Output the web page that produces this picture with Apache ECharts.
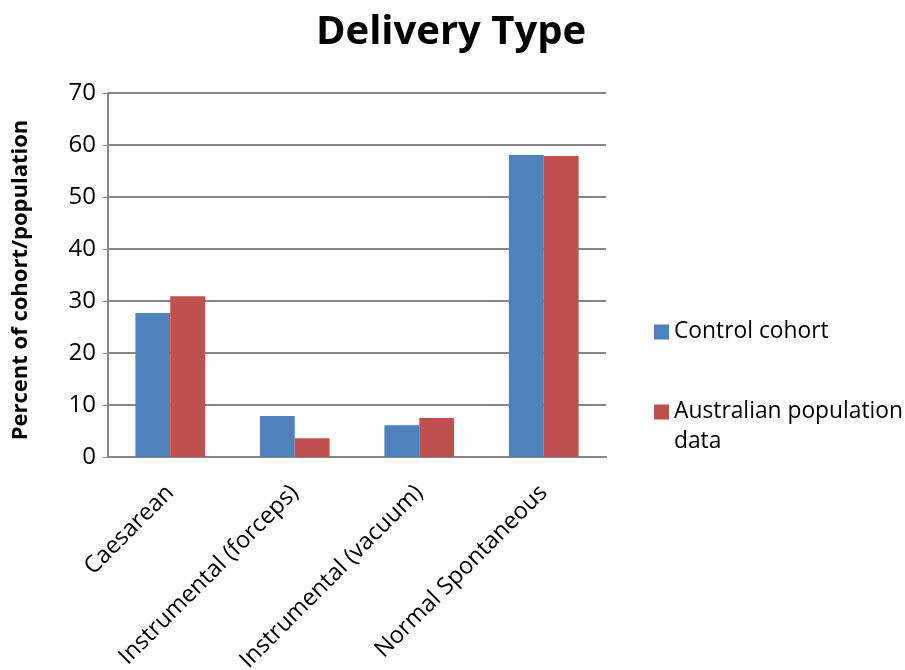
<!DOCTYPE html>
<html>
<head>
<meta charset="utf-8">
<script src="https://cdn.jsdelivr.net/npm/echarts@6/dist/echarts.min.js"></script>
<style>
  html, body { margin: 0; padding: 0; background: #fff; }
  #chart { width: 905px; height: 670px; }
</style>
</head>
<body>
<div id="chart"></div>
<script>
// Delivery type shares (%)
const categories = ['Caesarean', 'Instrumental (forceps)', 'Instrumental (vacuum)', 'Normal Spontaneous'];
const controlCohort = [27.7, 7.9, 6.1, 58.1];
const australianPopulation = [30.9, 3.6, 7.5, 57.9];
const yTicks = { min: 0, max: 70, interval: 10 };

const FONT = '"Open Sans", "Noto Sans", sans-serif';
const chart = echarts.init(document.getElementById('chart'));

chart.setOption({
  animation: false,
  title: {
    text: 'Delivery Type',
    left: 446,
    textAlign: 'center',
    top: 8,
    textStyle: { fontFamily: FONT, fontSize: 40, fontWeight: 'bold', color: '#000' }
  },
  legend: {
    orient: 'vertical',
    left: 649,
    top: 312,
    itemWidth: 15,
    itemHeight: 15,
    itemGap: 20,
    icon: 'rect',
    textStyle: { fontFamily: FONT, fontSize: 22.8, color: '#000', lineHeight: 30 },
    // the long entry wraps; a blank first line keeps the swatch beside its first word line
    formatter: function (name) {
      return name === 'Australian population data' ? '\nAustralian population\ndata' : name;
    },
    data: ['Control cohort', 'Australian population data']
  },
  grid: { left: 108, right: 299, top: 93, bottom: 213, outerBoundsMode: 'none', containLabel: false },
  xAxis: {
    type: 'category',
    data: categories,
    axisLine: { lineStyle: { color: '#868686', width: 2 } },
    axisTick: { show: false },
    axisLabel: {
      rotate: 45,
      interval: 0,
      margin: 32,
      fontFamily: FONT,
      fontSize: 23.5,
      color: '#000'
    }
  },
  yAxis: {
    type: 'value',
    min: yTicks.min,
    max: yTicks.max,
    interval: yTicks.interval,
    name: 'Percent of cohort/population',
    nameLocation: 'middle',
    nameGap: 76,
    nameRotate: 90,
    nameTextStyle: { fontFamily: FONT, fontSize: 22, fontWeight: 'bold', color: '#000', padding: [0, 10, 0, 0] },
    axisLine: { show: true, lineStyle: { color: '#868686', width: 2 } },
    axisTick: { show: true, length: 5, lineStyle: { color: '#868686' } },
    splitLine: { lineStyle: { color: '#868686', width: 2 } },
    axisLabel: { fontFamily: FONT, fontSize: 24, color: '#000', margin: 12 }
  },
  series: [
    {
      name: 'Control cohort',
      type: 'bar',
      data: controlCohort,
      barGap: '0%',
      barCategoryGap: '44%',
      itemStyle: { color: '#4F81BD' }
    },
    {
      name: 'Australian population data',
      type: 'bar',
      data: australianPopulation,
      itemStyle: { color: '#C0504D' }
    }
  ]
});
</script>
</body>
</html>
